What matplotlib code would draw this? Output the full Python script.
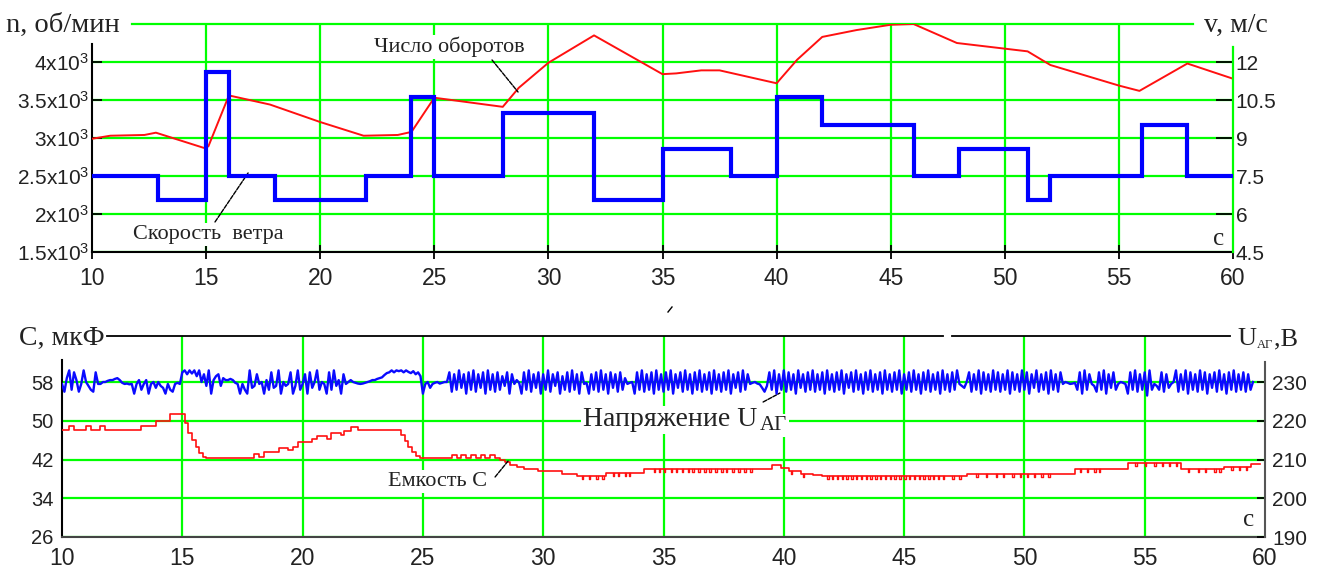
import numpy as np
import matplotlib
matplotlib.use('Agg')
import matplotlib.pyplot as plt
from matplotlib.lines import Line2D

plt.rcParams['font.family'] = ['Liberation Sans', 'DejaVu Sans']
plt.rcParams['mathtext.fontset'] = 'custom'
plt.rcParams['mathtext.rm'] = 'Liberation Sans'
plt.rcParams['mathtext.default'] = 'regular'

SERIF = ['Liberation Serif', 'DejaVu Serif']
GREEN = '#00ff00'
INK = '#222222'

# ---------------- top chart: rotor speed and wind speed ----------------
n_time = [10, 10.8, 12.3, 12.8, 14.9, 15.1, 16.0, 17.8, 20.0, 21.9, 23.4, 24.0,
          25.0, 28.0, 28.7, 30.0, 32.0, 35.0, 35.6, 36.7, 37.5, 40.0, 40.9,
          42.0, 43.5, 45.0, 46.0, 47.9, 51.0, 52.0, 55.0, 55.9, 58.0, 60.0]
n_rpm = [2990, 3030, 3040, 3070, 2870, 2890, 3560, 3440, 3210, 3030, 3040, 3080,
         3530, 3410, 3660, 3990, 4350, 3840, 3850, 3890, 3890, 3720, 4030,
         4330, 4420, 4490, 4500, 4250, 4140, 3960, 3690, 3620, 3980, 3780]

wind_time = [10, 12.9, 15, 16, 18, 22, 24, 25, 28, 32, 35, 38, 40, 42, 46, 48,
             51, 52, 56, 58, 60]
wind_ms = [7.5, 6.55, 11.6, 7.5, 6.55, 7.5, 10.6, 7.5, 10.0, 6.55, 8.55, 7.5,
           10.6, 9.5, 7.5, 8.55, 6.55, 7.5, 9.5, 7.5, 7.5]

t_ticks = [10, 15, 20, 25, 30, 35, 40, 45, 50, 55, 60]
n_ticks = [1500, 2000, 2500, 3000, 3500, 4000]
n_labels = ['1.5x10$^{3}$', '2x10$^{3}$', '2.5x10$^{3}$', '3x10$^{3}$',
            '3.5x10$^{3}$', '4x10$^{3}$']
v_ticks = [4.5, 6, 7.5, 9, 10.5, 12]
v_labels = ['4.5', '6', '7.5', '9', '10.5', '12']

# ---------------- bottom chart: capacitance and voltage ----------------
cap_time = [10.0, 10.3, 10.5, 11.0, 11.2, 11.6, 11.8, 13.3, 13.9, 14.5, 15.1,
            15.25, 15.4, 15.55, 15.7, 15.85, 16.0, 18.0, 18.2, 18.4, 19.0, 19.4,
            19.6, 19.8, 20.4, 20.6, 21.0, 21.2, 21.6, 21.7, 22.0, 22.3, 24.1,
            24.25, 24.4, 24.55, 24.7, 24.9, 26.2, 26.4, 26.6, 26.8, 27.0, 27.2,
            27.4, 27.6, 27.8, 28.0, 28.2, 28.4, 28.6, 28.9, 29.2, 29.8, 30.8,
            31.4, 32.6, 34.2, 39.5, 39.9, 40.2, 40.7, 41.2, 41.6, 47.6, 52.1,
            54.3, 56.5, 58.3, 59.4, 59.8]
cap_uf = [48.0, 48.9, 48.0, 48.9, 48.0, 48.9, 48.0, 49.0, 50.0, 51.3, 49.5,
          47.5, 46.0, 44.5, 43.3, 42.6, 42.3, 43.2, 42.5, 43.5, 44.4, 43.9,
          44.5, 45.6, 46.2, 46.9, 46.3, 47.4, 47.0, 47.9, 48.7, 48.0, 47.0,
          45.8, 44.6, 43.6, 42.8, 42.4, 43.0, 42.4, 43.0, 42.4, 43.0, 42.4,
          43.0, 42.4, 43.0, 42.4, 42.0, 41.4, 40.9, 40.4, 40.0, 39.6, 39.0,
          38.5, 39.2, 40.1, 40.9, 40.2, 39.6, 39.0, 38.8, 38.5, 39.0, 40.1,
          41.2, 40.1, 40.5, 41.0, 41.0]
# short downward notches on the capacitance trace
cap_notch_time = [31.6, 31.9, 32.2, 32.45, 32.9, 33.1, 33.4, 33.55,
                  34.6, 34.8, 35.0, 35.3, 35.5, 35.75, 36.0, 36.2, 36.45, 36.7,
                  36.9, 37.15, 37.4, 37.6, 37.85, 38.1, 38.35, 38.6, 40.3, 40.8,
                  41.8, 42.0, 42.2, 42.4, 42.6, 42.8, 43.0, 43.2, 43.4, 43.6,
                  43.8, 44.0, 44.2, 44.4, 44.6, 44.8, 45.0, 45.2, 45.4, 45.6,
                  45.8, 46.0, 46.2, 46.4, 46.6, 47.0, 47.3,
                  48.0, 48.4, 48.8, 49.1, 49.5, 49.8, 50.1, 50.4, 50.7, 51.0,
                  52.3, 52.6, 52.9, 53.1, 54.6, 55.0, 55.4, 55.7, 56.0, 56.3,
                  56.8, 57.2, 57.5, 57.9, 58.1, 58.6, 58.9, 59.2]

# generator voltage, one row per second, sampled every 0.1 s from t = 10 s
u_start = 10.0
u_step = 0.1
u_rows = [
    [229.5, 227.5, 231, 233, 228, 232.5, 230.5, 227.5, 229.5, 233],
    [230, 229, 228, 227.5, 232.5, 229.5, 229.5, 230, 230, 230.3],
    [230.5, 230.5, 230.8, 231, 230.5, 229.8, 229.5, 229.6, 229.4, 229.5],
    [227, 229.5, 230.5, 228, 229.5, 230.5, 227, 229.5, 230, 228.5],
    [230, 229, 228.5, 227, 229.5, 228, 227.5, 229.5, 229.8, 229.5],
    [232.5, 233, 232, 233, 232.2, 233, 231.5, 233, 230, 232],
    [229, 233, 227, 230.5, 231.5, 232, 229, 231, 230.5, 230.5],
    [230.8, 230.5, 229.8, 229.5, 227, 229.5, 228, 227, 233, 228.5],
    [229, 232, 229.5, 230, 227, 230.5, 228, 232.5, 228.5, 229],
    [233, 227, 230, 229, 229.5, 232.5, 227, 229, 233, 228],
    [229.5, 232, 227, 232.5, 228.5, 230, 233, 228, 230, 229.5],
    [227, 232.5, 228, 233, 229, 230.5, 227, 232, 229.5, 230],
    [230.5, 230, 229.8, 229.6, 229.5, 229.6, 229.8, 230, 230.2, 230.5],
    [230.5, 230.8, 231, 231.2, 231.8, 232.3, 232.5, 233, 232.5, 233],
    [232.8, 233, 232.5, 233, 232.6, 232.3, 232.8, 232, 232.5, 231.5],
    [227, 229.5, 230, 228.5, 229.5, 229.8, 230, 229.6, 229.8, 230],
    [230, 232.5, 227.5, 232, 228, 233, 228.5, 232, 227, 232.5],
    [228, 233, 227.5, 232, 228.5, 232.5, 227, 233, 228, 232],
    [227.5, 232.5, 228, 231.5, 229, 232.5, 227, 232, 229.5, 230.5],
    [229.8, 227, 232.5, 228, 233, 227.5, 232, 228.5, 232.5, 227],
    [232, 228, 233, 227.5, 232, 229, 232.5, 227, 231.5, 228],
    [232.5, 227.5, 233, 228, 232, 227, 232.5, 229.5, 229.8, 227],
    [232, 228, 232.5, 227.5, 233, 228, 232, 227, 232.5, 228.5],
    [232, 227.5, 232.5, 228, 231, 229.5, 229.8, 230, 227, 232.5],
    [228, 233, 227.5, 232, 228, 232.5, 227, 233, 228, 232],
    [227.5, 232.5, 228, 233, 227, 232, 228.5, 232.5, 227.5, 233],
    [228, 232, 227, 232.5, 228, 233, 227.5, 232, 228, 232.5],
    [227, 233, 228, 232, 227.5, 232.5, 228, 233, 227, 232],
    [228.5, 232.5, 227.5, 233, 228, 232, 229.5, 229.8, 230, 229.6],
    [229.4, 228.5, 227.5, 229, 232.5, 228, 233, 227, 232, 228],
    [233, 227.5, 232.5, 228, 232, 227, 233, 228.5, 232, 227.5],
    [232.5, 228, 233, 227.5, 232, 228, 232.5, 227, 233, 228],
    [232, 227.5, 232.5, 228, 233, 227, 232, 228.5, 232.5, 227.5],
    [233, 228, 232, 227, 232.5, 228, 233, 227.5, 232, 228],
    [232.5, 227, 233, 228, 232, 227.5, 232.5, 228, 233, 227],
    [232, 228, 232.5, 227.5, 233, 228, 232, 227, 232.5, 228],
    [233, 227.5, 232, 228, 232.5, 227, 233, 228, 232, 227.5],
    [232.5, 228, 233, 229.5, 229, 228.5, 230, 232.5, 227.5, 232],
    [228, 233, 227, 232.5, 228, 232, 227.5, 233, 228, 232.5],
    [227.5, 232, 228, 233, 227, 232.5, 228, 232, 227.5, 233],
    [228, 232.5, 227, 232, 228.5, 233, 227.5, 232, 228, 232.5],
    [227, 233, 228, 232, 227.5, 232.5, 229.5, 230, 229.8, 229.5],
    [229.6, 229.8, 228, 232.5, 227, 233, 228, 232, 229.5, 229],
    [227.5, 232.5, 228, 233, 227, 232, 228.5, 232.5, 228, 229.5],
    [230, 229.8, 229.5, 227, 232.5, 228, 233, 227.5, 232, 228],
    [232.5, 226.5, 233, 228, 229.5, 229, 228, 232.5, 227.5, 232],
    [228.5, 229.5, 230, 233, 227.5, 232, 228, 233, 227, 232.5],
    [228, 232, 227.5, 233, 228, 232.5, 227, 232, 228.5, 232.5],
    [227.5, 233, 228, 232, 227, 232.5, 228, 233, 227.5, 232],
    [228, 232.5, 227.5, 232, 228, 230],
]

c_ticks = [26, 34, 42, 50, 58]
u_ticks = [190, 200, 210, 220, 230]

# ---------------- figure ----------------
W, H = 1327, 571
fig = plt.figure(figsize=(W / 100, H / 100), dpi=100)


def box(l, t, r, b):
    return [l / W, 1 - b / H, (r - l) / W, (b - t) / H]


def fx(px):
    return px / W


def fy(py):
    return 1 - py / H


# top chart
ax1 = fig.add_axes(box(92, 24, 1233, 252))
ax1r = ax1.twinx()

ax1.plot(n_time, n_rpm, color='#ff1010', lw=1.4, zorder=3)
ax1r.plot(wind_time, wind_ms, color='#0000ff', lw=3, drawstyle='steps-post',
          solid_joinstyle='miter', zorder=3)

ax1.set_xlim(10, 60)
ax1.set_ylim(1500, 4500)
ax1r.set_ylim(4.5, 13.5)
ax1.set_xticks(t_ticks)
ax1.set_yticks(n_ticks)
ax1.set_yticklabels(n_labels)
ax1r.set_yticks(v_ticks)
ax1r.set_yticklabels(v_labels)

ax1.grid(True, color=GREEN, lw=1.6)
ax1.axhline(4500, xmin=0.035, xmax=0.965, color=GREEN, lw=1.6, clip_on=False)

ax1.tick_params(axis='x', direction='inout', length=10, width=1.3, colors='k',
                labelcolor=INK, labelsize=16.5, pad=6)
ax1.tick_params(axis='y', direction='in', length=7, width=1.3, colors='k',
                labelcolor=INK, labelsize=15, pad=2)
ax1r.tick_params(axis='y', direction='in', length=12, width=1.3, colors='k',
                 labelcolor=INK, labelsize=15, pad=2)

for s in ('top', 'right'):
    ax1.spines[s].set_visible(False)
for s in ('top', 'left', 'bottom'):
    ax1r.spines[s].set_visible(False)
ax1.spines['left'].set_bounds(1500, 4240)
ax1.spines['left'].set_linewidth(1.5)
ax1.spines['bottom'].set_linewidth(1.5)
ax1r.spines['right'].set_bounds(4.5, 12.6)
ax1r.spines['right'].set_color(GREEN)
ax1r.spines['right'].set_linewidth(1.6)

# bottom chart
ax2 = fig.add_axes(box(62, 336, 1265, 537))
ax2r = ax2.twinx()

u_values = np.concatenate([np.array(r, dtype=float) for r in u_rows])
u_time = u_start + u_step * np.arange(len(u_values))
ax2r.plot(u_time, u_values, color='#0a0aff', lw=1.7, zorder=3)

ax2.plot(cap_time, cap_uf, color='#ff1010', lw=1.2, drawstyle='steps-post',
         zorder=3)
notch_x, notch_y = [], []
for tb in cap_notch_time:
    base = cap_uf[np.searchsorted(cap_time, tb, side='right') - 1]
    notch_x += [tb, tb, tb + 0.06, tb + 0.06, np.nan]
    notch_y += [base, base - 0.6, base - 0.6, base, np.nan]
ax2.plot(notch_x, notch_y, color='#ff1010', lw=1.0, zorder=3)

ax2.set_xlim(10, 60)
ax2.set_ylim(26, 67.5)
ax2r.set_ylim(190, 241.875)
ax2.set_xticks(t_ticks)
ax2.set_yticks(c_ticks)
ax2r.set_yticks(u_ticks)

ax2.grid(True, color=GREEN, lw=1.6)
ax2.axhline(67.5, xmin=0.037, xmax=0.732, color='k', lw=1.3, clip_on=False)
ax2.axhline(67.5, xmin=0.740, xmax=0.971, color='k', lw=1.3, clip_on=False)

ax2.tick_params(axis='x', length=0, labelcolor=INK, labelsize=16.5, pad=7)
ax2.tick_params(axis='y', length=0, labelcolor=INK, labelsize=14.5, pad=6)
ax2r.tick_params(axis='y', direction='in', length=6, width=1.3, colors='k',
                 labelcolor=INK, labelsize=15, pad=5)

for s in ('top', 'right'):
    ax2.spines[s].set_visible(False)
for s in ('top', 'left', 'bottom'):
    ax2r.spines[s].set_visible(False)
ax2.spines['left'].set_bounds(26, 62.6)
ax2.spines['left'].set_linewidth(1.5)
ax2.spines['bottom'].set_linewidth(1.5)
ax2.spines['bottom'].set_color('#444444')
ax2r.spines['right'].set_bounds(190, 235.2)
ax2r.spines['right'].set_linewidth(1.5)
ax2r.spines['right'].set_color('#555555')

for ax in (ax1, ax2):
    ticks = ax.xaxis.get_major_ticks()
    ticks[0].gridline.set_visible(False)
    ticks[-1].gridline.set_visible(False)

# annotations
white = dict(facecolor='white', edgecolor='none', pad=1.5)
lead = dict(arrowstyle='-', color='k', lw=1.0, linestyle=(0, (3, 1)),
            shrinkA=0, shrinkB=0)

ax1.text(15.08, 1724, 'Скорость  ветра', family=SERIF, fontsize=16,
         color=INK, ha='center', va='center', bbox=white, zorder=5)
ax1.annotate('', xy=(16.84, 2540), xytext=(15.39, 1895), arrowprops=lead,
             zorder=5)
ax1.text(25.64, 4198, 'Число оборотов', family=SERIF, fontsize=16,
         color=INK, ha='center', va='center', bbox=white, zorder=5)
ax1.annotate('', xy=(28.67, 3605), xytext=(27.53, 4027), arrowprops=lead,
             zorder=5)

ax2.text(38.89, 50.16, 'Напряжение U', family=SERIF, fontsize=20,
         color=INK, ha='right', va='center', bbox=white, zorder=5)
ax2.text(39.0, 49.0, 'АГ', family=SERIF, fontsize=15, color=INK,
         ha='left', va='center', bbox=white, zorder=5)
ax2.annotate('', xy=(39.84, 55.73), xytext=(39.14, 53.87), arrowprops=lead,
             zorder=5)
ax2.text(25.59, 37.36, 'Емкость C', family=SERIF, fontsize=16,
         color=INK, ha='center', va='center', bbox=white, zorder=5)
ax2.annotate('', xy=(28.54, 41.69), xytext=(28.0, 38.39), arrowprops=lead,
             zorder=5)

# axis captions
fig.text(fx(6), fy(25), 'n, об/мин', family=SERIF, fontsize=20.5, color=INK,
         ha='left', va='center')
fig.text(fx(1204), fy(25), 'v, м/с', family=SERIF, fontsize=20, color=INK,
         ha='left', va='center')
fig.text(fx(1219), fy(239), 'c', family=SERIF, fontsize=18, color=INK,
         ha='center', va='center')
fig.text(fx(19), fy(338), 'C, мкФ', family=SERIF, fontsize=20, color=INK,
         ha='left', va='center')
fig.text(fx(1237), fy(339), 'U', family=SERIF, fontsize=19, color=INK,
         ha='left', va='center')
fig.text(fx(1257), fy(345), 'АГ', family=SERIF, fontsize=9, color=INK,
         ha='left', va='center')
fig.text(fx(1274), fy(339), ',B', family=SERIF, fontsize=19, color=INK,
         ha='left', va='center')
fig.text(fx(1249), fy(520), 'c', family=SERIF, fontsize=18, color=INK,
         ha='center', va='center')

# small stray mark between the panels
fig.add_artist(Line2D([fx(668), fx(672)], [fy(312), fy(307)], color='k',
                      lw=1.0))

fig.savefig('out.png', dpi=100)
